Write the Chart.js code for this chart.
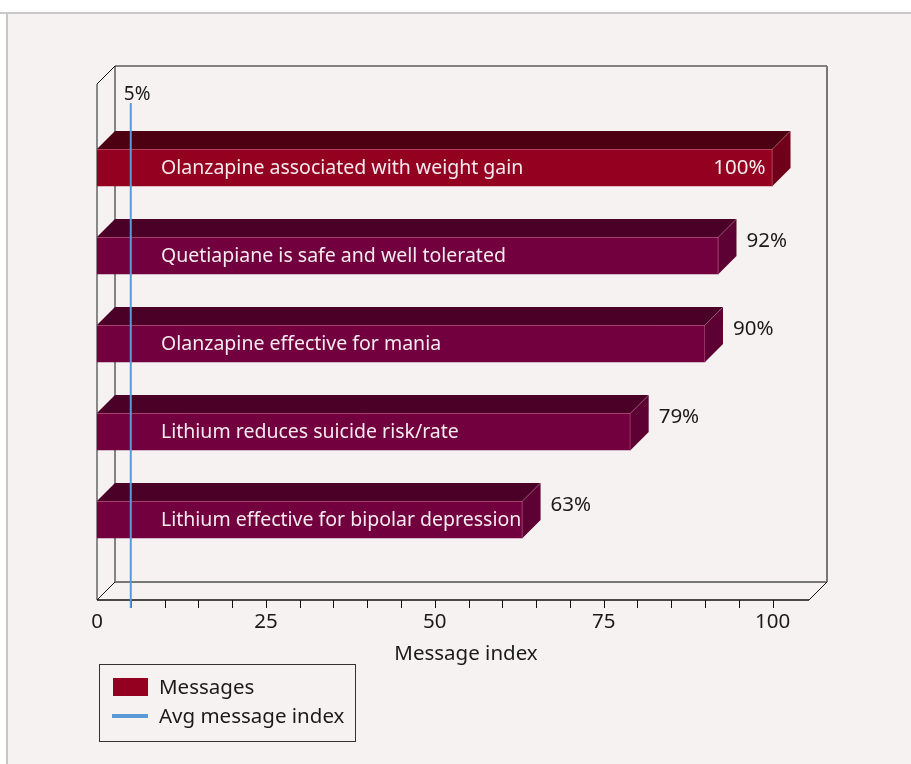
<!DOCTYPE html>
<html>
<head>
<meta charset="utf-8">
<script src="https://cdn.jsdelivr.net/npm/chart.js@4.4.1/dist/chart.umd.min.js"></script>
<style>
  html, body { margin: 0; padding: 0; }
  body { width: 911px; height: 764px; background: #f7f2f2; position: relative; overflow: hidden; }
  .band { position: absolute; left: 0; top: 0; width: 911px; height: 12px; background: #fff; border-bottom: 2px solid #c9c9c9; }
  .strip { position: absolute; left: 0; top: 14px; width: 6px; height: 750px; background: #fff; border-right: 2px solid #c6c6c6; }
  #chart { position: absolute; left: 0; top: 0; }
</style>
</head>
<body>
<div class="band"></div>
<div class="strip"></div>
<canvas id="chart" width="911" height="764"></canvas>
<script>
(function () {
  'use strict';

  var CATEGORIES = [
    'Olanzapine associated with weight gain',
    'Quetiapiane is safe and well tolerated',
    'Olanzapine effective for mania',
    'Lithium reduces suicide risk/rate',
    'Lithium effective for bipolar depression'
  ];
  var VALUES = [100, 92, 90, 79, 63];
  var AVG_INDEX = 5;
  var X_TICK_LABELS = [0, 25, 50, 75, 100];
  var X_MINOR_STEP = 5;

  var FONT = '"Noto Sans", "Open Sans", sans-serif';
  var DEPTH = 18;

  // front / top / side colours for each bar
  var RED = { front: '#94001f', top: '#4c0012', side: '#700019' };
  var PLUM = { front: '#72003e', top: '#4a0027', side: '#5d0033' };
  function barColors(i) { return i === 0 ? RED : PLUM; }

  function line(ctx, x1, y1, x2, y2, color, width) {
    ctx.beginPath();
    ctx.moveTo(x1, y1);
    ctx.lineTo(x2, y2);
    ctx.strokeStyle = color;
    ctx.lineWidth = width;
    ctx.stroke();
  }

  var framePlugin = {
    id: 'frame3d',
    beforeDatasetsDraw: function (chart) {
      var ctx = chart.ctx, a = chart.chartArea, xs = chart.scales.x;
      var l = a.left, r = a.right, t = a.top, b = a.bottom, d = DEPTH;
      ctx.save();
      // back wall
      line(ctx, l + d, t - d, l + d, b - d, '#111', 1);
      line(ctx, l + d, t - d, r + d, t - d, '#111', 1.2);
      line(ctx, r + d, t - d, r + d, b - d, '#777', 2);
      line(ctx, l + d, b - d, r + d, b - d, '#777', 2);
      // front edges
      line(ctx, l, t, l, b, '#666', 1.5);
      line(ctx, l, t, l + d, t - d, '#111', 1);
      line(ctx, l, b, l + d, b - d, '#111', 1);
      line(ctx, r, b, r + d, b - d, '#111', 1);
      line(ctx, l, b, r, b, '#111', 1.5);
      // minor ticks
      for (var v = X_MINOR_STEP; v <= 100; v += X_MINOR_STEP) {
        var px = Math.round(xs.getPixelForValue(v)) + 0.5;
        line(ctx, px, b, px, b + 8, '#111', 1);
      }
      ctx.restore();
    },
    afterDatasetsDraw: function (chart) {
      var ctx = chart.ctx, a = chart.chartArea, xs = chart.scales.x;
      var meta = chart.getDatasetMeta(0);
      var d = DEPTH;
      ctx.save();
      meta.data.forEach(function (bar, i) {
        var c = barColors(i);
        var left = bar.base, right = bar.x;
        var top = bar.y - bar.height / 2, bottom = bar.y + bar.height / 2;
        // top face
        ctx.beginPath();
        ctx.moveTo(left, top);
        ctx.lineTo(right, top);
        ctx.lineTo(right + d, top - d);
        ctx.lineTo(left + d, top - d);
        ctx.closePath();
        ctx.fillStyle = c.top;
        ctx.fill();
        // side face
        ctx.beginPath();
        ctx.moveTo(right, top);
        ctx.lineTo(right + d, top - d);
        ctx.lineTo(right + d, bottom - d);
        ctx.lineTo(right, bottom);
        ctx.closePath();
        ctx.fillStyle = c.side;
        ctx.fill();
        // light edges
        line(ctx, left, top + 0.5, right, top + 0.5, 'rgba(230,140,170,0.45)', 1);
        line(ctx, right - 0.5, top, right - 0.5, bottom, 'rgba(230,140,170,0.35)', 1);
        line(ctx, right, top, right + d, top - d, 'rgba(230,140,170,0.3)', 1);

        // category text inside bar
        ctx.font = '19.5px ' + FONT;
        ctx.fillStyle = '#f6eaee';
        ctx.textAlign = 'left';
        ctx.textBaseline = 'middle';
        ctx.fillText(CATEGORIES[i], 161, bar.y + 1);

        // value label
        var txt = VALUES[i] + '%';
        ctx.font = '20.5px ' + FONT;
        if (VALUES[i] >= 100) {
          ctx.textAlign = 'right';
          ctx.fillStyle = '#f6eaee';
          ctx.fillText(txt, right - 7, bar.y + 1);
        } else {
          ctx.textAlign = 'left';
          ctx.fillStyle = '#1a1a1a';
          ctx.fillText(txt, right + d + 10, bar.y - 14);
        }
      });

      // average line
      var ax = xs.getPixelForValue(AVG_INDEX);
      line(ctx, ax, a.top + 19, ax, a.bottom + 8, '#5b9bd5', 2);
      ctx.font = '19px ' + FONT;
      ctx.fillStyle = '#1a1a1a';
      ctx.textAlign = 'left';
      ctx.textBaseline = 'middle';
      ctx.fillText(AVG_INDEX + '%', ax - 7, a.top + 11);

      // tick labels and axis title
      ctx.font = '20.5px ' + FONT;
      ctx.textAlign = 'center';
      X_TICK_LABELS.forEach(function (v) {
        ctx.fillText(String(v), xs.getPixelForValue(v), a.bottom + 22);
      });
      ctx.fillText('Message index', (a.left + a.right) / 2 + DEPTH / 2 + 4, a.bottom + 54);

      // legend box
      ctx.strokeStyle = '#333';
      ctx.lineWidth = 1;
      ctx.strokeRect(99.5, 664.5, 256, 77);
      ctx.fillStyle = RED.front;
      ctx.fillRect(113, 678, 35, 18);
      line(ctx, 112, 716, 148, 716, '#5b9bd5', 4);
      ctx.fillStyle = '#1a1a1a';
      ctx.textAlign = 'left';
      ctx.font = '20.5px ' + FONT;
      ctx.fillText('Messages', 159, 688);
      ctx.fillText('Avg message index', 159, 717);
      ctx.restore();
    }
  };

  new Chart(document.getElementById('chart'), {
    type: 'bar',
    data: {
      datasets: [{
        label: 'Messages',
        data: VALUES.map(function (v, i) { return { x: v, y: i }; }),
        backgroundColor: VALUES.map(function (_, i) { return barColors(i).front; }),
        borderWidth: 0,
        barThickness: 37
      }]
    },
    options: {
      indexAxis: 'y',
      responsive: false,
      animation: false,
      layout: { padding: { left: 97, top: 84, right: 102, bottom: 164 } },
      plugins: { legend: { display: false }, tooltip: { enabled: false } },
      scales: {
        x: { type: 'linear', min: 0, max: 105.4, display: false },
        y: { type: 'linear', min: -0.949, max: 4.915, reverse: true, offset: false, display: false }
      }
    },
    plugins: [framePlugin]
  });
})();
</script>
</body>
</html>
